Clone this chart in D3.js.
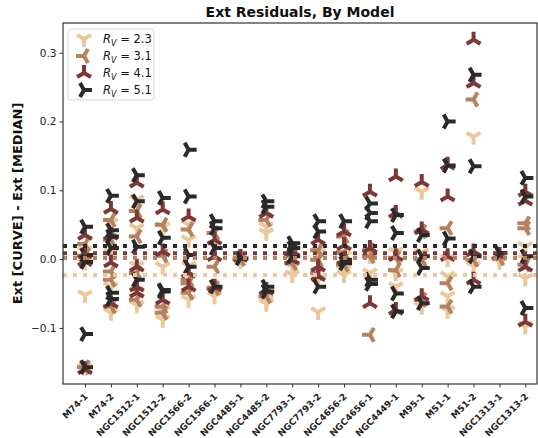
<!DOCTYPE html>
<html>
<head>
<meta charset="utf-8">
<script src="https://cdn.jsdelivr.net/npm/d3@7"></script>
<style>
  body { margin: 0; background: #fff; }
  svg { display: block; font-family: "DejaVu Sans", sans-serif; }
</style>
</head>
<body>
<svg id="chart" width="538" height="438"></svg>
<script>
// Fields, in plotting order along the x axis
const categories = ["M74-1", "M74-2", "NGC1512-1", "NGC1512-2", "NGC1566-2", "NGC1566-1",
  "NGC4485-1", "NGC4485-2", "NGC7793-1", "NGC7793-2", "NGC4656-2", "NGC4656-1",
  "NGC4449-1", "M95-1", "M51-1", "M51-2", "NGC1313-1", "NGC1313-2"];

// R_V values of the four extinction curves
const rvValues = ["2.3", "3.1", "4.1", "5.1"];

// Residuals per field, one inner list per category
const resRv23 = [
  [0.012, -0.005, -0.052, -0.158],
  [0.053, 0.009, -0.040, -0.078],
  [0.086, 0.045, -0.010, -0.047, -0.067],
  [0.047, -0.011, -0.075, -0.088],
  [0.050, 0.028, -0.010, -0.059],
  [0.020, -0.045, -0.054],
  [-0.003],
  [0.047, 0.038, -0.059, -0.065],
  [-0.011, -0.023],
  [0.010, -0.030, -0.077],
  [0.005, -0.016, -0.023],
  [0.005, -0.020],
  [0.010, -0.020, -0.040],
  [0.098, 0.009, -0.069],
  [0.000, -0.025, -0.054, -0.075],
  [0.178, -0.010],
  [-0.004],
  [0.018, 0.000, -0.028, -0.098]
];
const resRv31 = [
  [0.022, 0.005, -0.157],
  [0.057, 0.028, -0.018, -0.030, -0.069],
  [0.070, 0.033, -0.020, -0.059],
  [0.050, 0.005, -0.069, -0.078],
  [0.043, -0.030, -0.035, -0.049],
  [0.038, -0.011, -0.042],
  [0.000],
  [0.057, -0.054],
  [0.004, -0.006],
  [0.013, -0.001, -0.020],
  [0.033, 0.010, -0.008],
  [0.013, 0.004, -0.110],
  [0.002, -0.016],
  [0.040, 0.000, -0.059],
  [0.045, -0.035, -0.069],
  [0.232, -0.001],
  [0.001],
  [0.052, 0.045, -0.008]
];
const resRv41 = [
  [0.035, 0.008, -0.003, -0.160],
  [0.073, 0.035, -0.005, -0.064],
  [0.111, 0.060, -0.011, -0.040, -0.049],
  [0.072, 0.011, -0.059],
  [0.062, -0.020, -0.040],
  [0.028, 0.004, -0.040],
  [0.003],
  [0.067, -0.045],
  [0.011, -0.001],
  [0.028, -0.011, -0.025],
  [0.040, 0.020, -0.001],
  [0.098, 0.016, -0.064],
  [0.120, 0.067, 0.004, -0.074],
  [0.112, 0.043, -0.054],
  [0.137, 0.091, 0.004],
  [0.319, 0.256, 0.011, -0.030],
  [0.006],
  [0.098, 0.085, -0.011, -0.091]
];
const resRv51 = [
  [0.047, 0.006, -0.004, -0.109, -0.157],
  [0.092, 0.042, 0.033, 0.016, -0.049, -0.058],
  [0.122, 0.084, 0.018, -0.030],
  [0.089, 0.031, -0.045, -0.047],
  [0.159, 0.091, 0.006, -0.011],
  [0.055, 0.045, 0.016, -0.040],
  [0.001],
  [0.084, 0.076, -0.040, -0.047],
  [0.023, 0.016, 0.004],
  [0.055, 0.040, -0.040],
  [0.055, -0.001, -0.006],
  [0.081, 0.067, 0.055, -0.030, -0.036],
  [0.064, 0.038, -0.050, -0.076],
  [0.035, 0.004, -0.013, -0.064],
  [0.200, 0.136, 0.030],
  [0.268, 0.135, 0.004, -0.040],
  [0.009],
  [0.118, 0.091, 0.004, -0.071]
];

// Median residual of each curve, drawn as dotted reference lines
const medianLevels = [-0.023, 0.0015, 0.0087, 0.019];

const yTicks = [-0.1, 0.0, 0.1, 0.2, 0.3];

// Styling
const seriesColors = ["#EBC79E", "#B4825F", "#7D3737", "#2A2A2A"];
const seriesMarkers = ["down", "left", "up", "right"];
const series = [resRv23, resRv31, resRv41, resRv51];

const plot = { left: 63, right: 537, top: 23, bottom: 384 };

const svg = d3.select("#chart");

const x = d3.scaleLinear().domain([-0.85, 17.45]).range([plot.left, plot.right]);
const y = d3.scaleLinear().domain([-0.1815, 0.3432]).range([plot.bottom, plot.top]);

// three-armed "tri" marker, arms from the centre
function triPath(kind, r) {
  const c = 0.866 * r, h = 0.5 * r;
  let arms;
  if (kind === "down") arms = [[0, r], [-c, -h], [c, -h]];
  else if (kind === "up") arms = [[0, -r], [-c, h], [c, h]];
  else if (kind === "left") arms = [[-r, 0], [h, -c], [h, c]];
  else arms = [[r, 0], [-h, -c], [-h, c]];
  return arms.map(a => `M0,0L${a[0].toFixed(2)},${a[1].toFixed(2)}`).join("");
}

svg.append("defs").append("clipPath").attr("id", "plotClip")
  .append("rect")
  .attr("x", plot.left).attr("y", plot.top)
  .attr("width", plot.right - plot.left).attr("height", plot.bottom - plot.top);

const body = svg.append("g").attr("clip-path", "url(#plotClip)");

// markers, one layer per curve
series.forEach((res, s) => {
  const pts = [];
  res.forEach((vals, i) => vals.forEach(v => pts.push({ i, v })));
  body.append("g")
    .selectAll("path")
    .data(pts)
    .join("path")
    .attr("transform", d => `translate(${x(d.i)},${y(d.v)})`)
    .attr("d", triPath(seriesMarkers[s], 8))
    .attr("fill", "none")
    .attr("stroke", seriesColors[s])
    .attr("stroke-width", 4);
});

// dotted median lines
body.append("g")
  .selectAll("line")
  .data(medianLevels)
  .join("line")
  .attr("x1", plot.left).attr("x2", plot.right)
  .attr("y1", d => y(d)).attr("y2", d => y(d))
  .attr("stroke", (d, i) => seriesColors[i])
  .attr("stroke-width", 4)
  .attr("stroke-dasharray", "4,6");

// axes
const yAxis = svg.append("g")
  .attr("transform", `translate(${plot.left},0)`)
  .call(d3.axisLeft(y).tickValues(yTicks).tickFormat(d3.format(".1f")).tickSize(3.5).tickPadding(3));
yAxis.select(".domain").remove();
yAxis.selectAll("line").attr("stroke", "#333");
yAxis.selectAll("text").attr("font-size", 10.5).attr("fill", "#222").attr("font-family", "DejaVu Sans");

const xAxis = svg.append("g")
  .attr("transform", `translate(0,${plot.bottom})`)
  .call(d3.axisBottom(x).tickValues(d3.range(categories.length))
    .tickFormat(i => categories[i]).tickSize(3.5).tickPadding(3));
xAxis.select(".domain").remove();
xAxis.selectAll("line").attr("stroke", "#333");
xAxis.selectAll("text")
  .attr("font-size", 9)
  .attr("font-weight", "bold")
  .attr("fill", "#222")
  .attr("font-family", "DejaVu Sans")
  .attr("text-anchor", "end")
  .attr("dy", null)
  .attr("y", 0)
  .attr("transform", "translate(3,13) rotate(-45)");

// frame
svg.append("rect")
  .attr("x", plot.left).attr("y", plot.top)
  .attr("width", plot.right - plot.left).attr("height", plot.bottom - plot.top)
  .attr("fill", "none").attr("stroke", "#333").attr("stroke-width", 1.2);

// title and axis label
svg.append("text")
  .attr("x", (plot.left + plot.right) / 2).attr("y", 17)
  .attr("text-anchor", "middle")
  .attr("font-size", 14).attr("font-weight", "bold").attr("fill", "#111")
  .text("Ext Residuals, By Model");

svg.append("text")
  .attr("transform", `translate(22,${(plot.top + plot.bottom) / 2}) rotate(-90)`)
  .attr("text-anchor", "middle")
  .attr("font-size", 13).attr("font-weight", "bold").attr("fill", "#111")
  .text("Ext [CURVE] - Ext [MEDIAN]");

// legend
const legend = svg.append("g").attr("transform", "translate(68,29)");
legend.append("rect")
  .attr("width", 86).attr("height", 71).attr("rx", 3)
  .attr("fill", "#fff").attr("fill-opacity", 0.8)
  .attr("stroke", "#d5d5d5").attr("stroke-width", 1);
rvValues.forEach((rv, s) => {
  const gy = 10 + s * 17;
  legend.append("path")
    .attr("transform", `translate(16,${gy})`)
    .attr("d", triPath(seriesMarkers[s], 8))
    .attr("fill", "none")
    .attr("stroke", seriesColors[s])
    .attr("stroke-width", 4);
  const t = legend.append("text")
    .attr("x", 35).attr("y", gy + 4)
    .attr("font-size", 11.5).attr("fill", "#111");
  t.append("tspan").attr("font-style", "italic").text("R");
  t.append("tspan").attr("font-style", "italic").attr("font-size", 8).attr("dy", 2.5).text("V");
  t.append("tspan").attr("dy", -2.5).text(" = " + rv);
});
</script>
</body>
</html>
